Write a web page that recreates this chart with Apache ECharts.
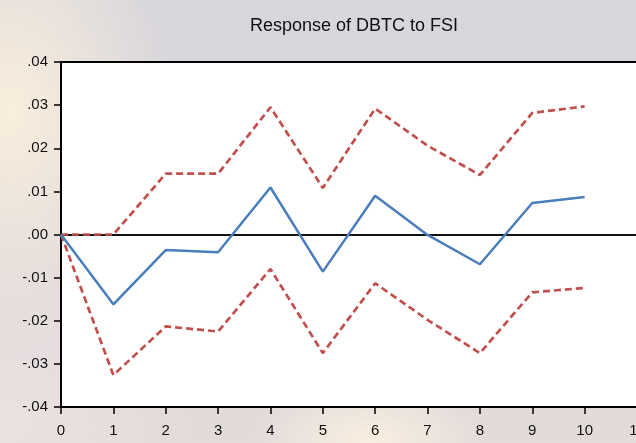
<!DOCTYPE html>
<html>
<head>
<meta charset="utf-8">
<script src="https://cdn.jsdelivr.net/npm/echarts@6/dist/echarts.min.js"></script>
<style>
html,body{margin:0;padding:0;width:636px;height:443px;overflow:hidden;}
body{
  background:
    radial-gradient(ellipse 120px 60px at 370px 440px, rgba(250,240,225,0.95), rgba(250,240,225,0) 100%),
    radial-gradient(ellipse 160px 240px at 10px 110px, rgba(250,238,220,1), rgba(250,238,220,0) 100%),
    radial-gradient(ellipse 200px 160px at 0px 420px, rgba(235,225,225,1), rgba(235,225,225,0) 100%),
    linear-gradient(180deg, #d8d6dc 0%, #dcd8dc 50%, #e3dbda 100%);
}
#chart{width:636px;height:443px;}
</style>
</head>
<body>
<div id="chart"></div>
<script>
const title = "Response of DBTC to FSI";
const periods = [0,1,2,3,4,5,6,7,8,9,10];
const response = [0, -0.0162, -0.0036, -0.0041, 0.0109, -0.0086, 0.0090, -0.0001, -0.0069, 0.0073, 0.0087];
const upperBand = [0, 0.0000, 0.0141, 0.0141, 0.0295, 0.0108, 0.0292, 0.0206, 0.0138, 0.0282, 0.0297];
const lowerBand = [0, -0.0326, -0.0213, -0.0225, -0.0080, -0.0275, -0.0113, -0.0198, -0.0275, -0.0134, -0.0124];
const xTicks = [0,1,2,3,4,5,6,7,8,9,10,11];

const pair = arr => periods.map((p,i)=>[p, arr[i]]);
const fmtY = v => {
  const s = Math.abs(v).toFixed(2).replace(/^0/, '');
  return (v < -1e-9 ? '-' : '') + s;
};

const chart = echarts.init(document.getElementById('chart'), null, {renderer:'canvas'});
chart.setOption({
  backgroundColor: 'transparent',
  animation: false,
  title: {
    text: title, left: 349, top: 12, textAlign: 'center',
    textStyle: {fontFamily: 'Liberation Sans', fontSize: 18, fontWeight: 'normal', color: '#111'}
  },
  grid: {
    left: 61, top: 62, width: 576, height: 345,
    outerBoundsMode: 'none', containLabel: false,
    show: true, backgroundColor: '#ffffff', borderColor: '#000', borderWidth: 2
  },
  xAxis: {
    type: 'value', min: xTicks[0], max: xTicks[xTicks.length-1], interval: 1,
    axisLine: {show: true, onZero: false, lineStyle: {color: '#000', width: 2}},
    axisTick: {show: true, length: 7, lineStyle: {color: '#000', width: 1.5}},
    axisLabel: {margin: 16, fontFamily: 'Liberation Sans', fontSize: 15, color: '#111'},
    splitLine: {show: false}
  },
  yAxis: {
    type: 'value', min: -0.04, max: 0.04, interval: 0.01,
    axisLine: {show: true, onZero: false, lineStyle: {color: '#000', width: 2}},
    axisTick: {show: true, length: 7, lineStyle: {color: '#000', width: 1.5}},
    axisLabel: {margin: 13, fontFamily: 'Liberation Sans', fontSize: 15, color: '#111', formatter: fmtY},
    splitLine: {show: false}
  },
  series: [
    {
      type: 'line', data: pair(upperBand), symbol: 'none',
      lineStyle: {color: '#c0504d', width: 2.7, type: [7, 4]}, z: 3
    },
    {
      type: 'line', data: pair(lowerBand), symbol: 'none',
      lineStyle: {color: '#c0504d', width: 2.7, type: [7, 4]}, z: 3
    },
    {
      type: 'line', data: pair(response), symbol: 'none',
      lineStyle: {color: '#4a7ebb', width: 2.5}, z: 4,
      markLine: {
        silent: true, symbol: 'none', label: {show: false},
        lineStyle: {color: '#111', width: 2, type: 'solid'},
        data: [{yAxis: 0}], z: 2
      }
    }
  ]
});
</script>
</body>
</html>
